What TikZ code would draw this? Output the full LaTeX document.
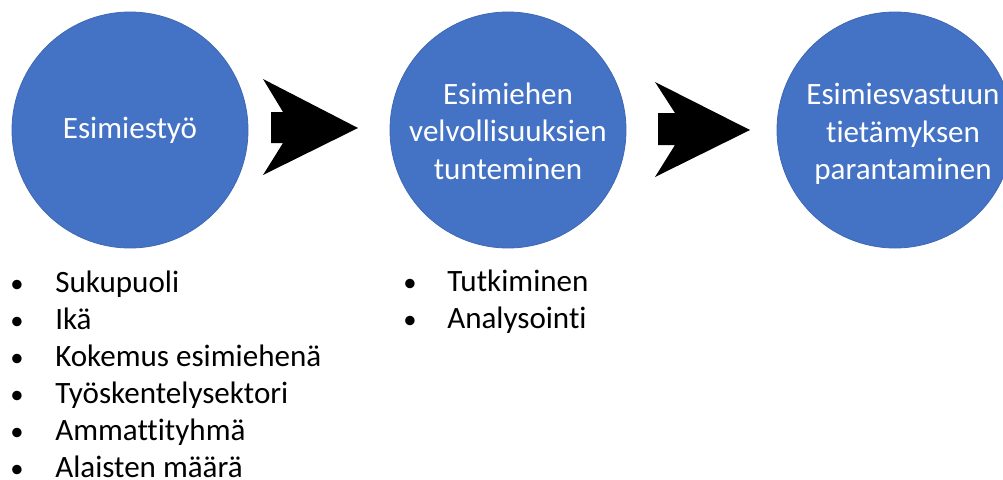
\documentclass[tikz,border=0pt]{standalone}
\usepackage{fontspec}
\setmainfont{Carlito}[Ligatures=NoCommon]
\definecolor{circblue}{HTML}{4472C4}
\definecolor{circedge}{HTML}{3F68B4}
\begin{document}
\begin{tikzpicture}[x=0.75pt,y=-0.75pt,
  stage/.style={circle,fill=circblue,draw=circedge,line width=0.6pt,minimum size=177pt,inner sep=0pt},
  stagetext/.style={text=white,align=center,font=\fontsize{23.3}{28}\selectfont},
  item/.style={anchor=base west,inner sep=0pt,font=\fontsize{23.3}{28}\selectfont},
  bul/.style={anchor=base,inner sep=0pt,font=\fontsize{20}{28}\selectfont},
  chevron/.style={fill=black,draw=none}]
\useasboundingbox (0,0) rectangle (1003,479);
\begin{scope}
\clip (0,0) rectangle (1003,479);
\node[stage] (c1) at (130,130) {};
\node[stage] (c2) at (508,130) {};
\node[stage] (c3) at (895,130) {};
\end{scope}
\node[stagetext] (t1) at (c1.center) {Esimiestyö};
\node[stagetext] (t2) at (508,131) {Esimiehen\\velvollisuuksien\\tunteminen};
\node[stagetext] (t3) at (903,134) {Esimiesvastuun\\tietämyksen\\parantaminen};
% block arrows
\fill[chevron] (263,79) -- (358,128) -- (263,175) -- (283,143) -- (271,143) -- (271,112) -- (283,112) -- cycle;
\fill[chevron] (655,82) -- (750,130) -- (655,177) -- (675,145) -- (658,145) -- (658,113) -- (675,113) -- cycle;
% left list
\foreach \txt [count=\i from 0] in {Sukupuoli,Ikä,Kokemus esimiehenä,Työskentelysektori,Ammattityhmä,Alaisten määrä}{
  \node[bul] (b\i) at (17,{292+37*\i}) {\textbullet};
  \node[item] (l\i) at (55,{292+37*\i}) {\txt};
}
% middle list
\node[bul] (mb0) at (410,291) {\textbullet};
\node[item] (m0) at (447,291) {Tutkiminen};
\node[bul] (mb1) at (410,328) {\textbullet};
\node[item] (m1) at (447,328) {Analysointi};
\end{tikzpicture}
\end{document}
